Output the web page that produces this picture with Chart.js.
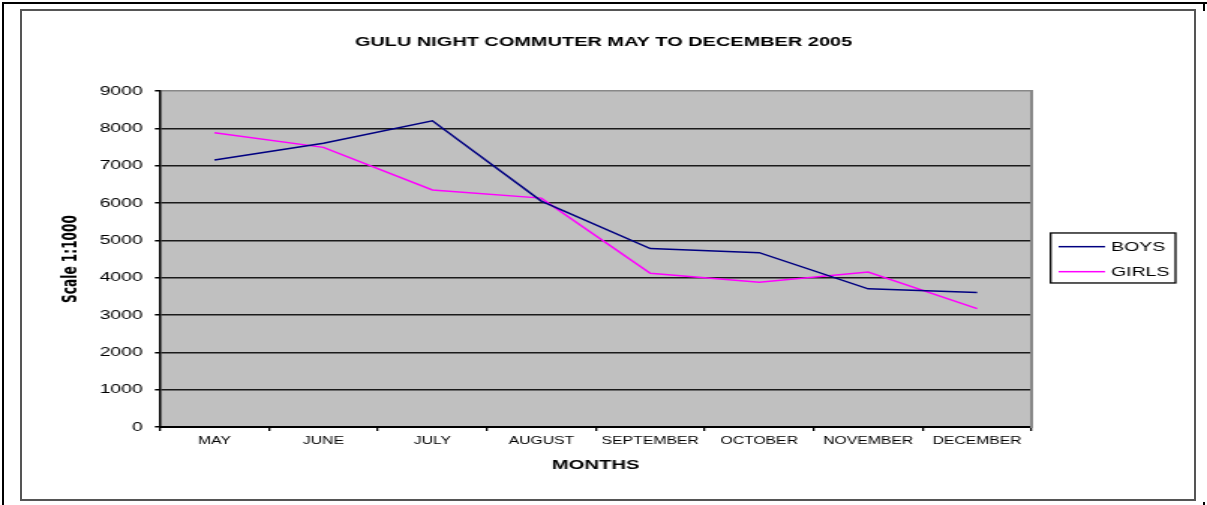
<!DOCTYPE html>
<html>
<head>
<meta charset="utf-8">
<script src="https://cdn.jsdelivr.net/npm/chart.js@4.4.1/dist/chart.umd.min.js"></script>
<style>
  html, body { margin: 0; padding: 0; background: #fff; }
  body { position: relative; width: 1207px; height: 505px; overflow: hidden; }
  .page { position: absolute; left: 2px; top: 2px; width: 1220px; height: 520px; border-left: 2px solid #000; border-top: 2px solid #000; }
  .edge { position: absolute; left: 1203px; width: 2px; background: #000; }
  .frame { position: absolute; left: 20px; top: 9px; width: 1176px; height: 492px; box-sizing: border-box; border: 2px solid #555; }
  #chart { position: absolute; left: 0; top: 0; }
</style>
</head>
<body>
<div class="page"></div>
<div class="edge" style="top:2px;height:9px"></div>
<div class="edge" style="top:502px;height:3px"></div>
<div class="frame"></div>
<!-- the source picture is stretched sideways, so the canvas is drawn narrow and widened by css -->
<canvas id="chart" width="805" height="505" style="width:1207px;height:505px"></canvas>
<script>
const months = ['MAY', 'JUNE', 'JULY', 'AUGUST', 'SEPTEMBER', 'OCTOBER', 'NOVEMBER', 'DECEMBER'];
const boys = [7150, 7600, 8200, 6050, 4780, 4670, 3700, 3600];
const girls = [7880, 7490, 6350, 6130, 4120, 3875, 4150, 3170];
const yTicks = [0, 1000, 2000, 3000, 4000, 5000, 6000, 7000, 8000, 9000];

const FONT = 'Liberation Sans, Arial, sans-serif';

// grey plot area, like the old excel charts
const plotBackground = {
  id: 'plotBackground',
  beforeDraw(chart) {
    const { ctx, chartArea: a } = chart;
    ctx.save();
    ctx.fillStyle = '#c0c0c0';
    ctx.fillRect(a.left, a.top, a.right - a.left, a.bottom - a.top);
    ctx.restore();
  }
};

// legend with a box round it
const boxLegend = {
  id: 'boxLegend',
  afterDraw(chart) {
    const { ctx, chartArea: a } = chart;
    const x = a.right + 12.7;
    const y = (a.top + a.bottom) / 2 - 26;
    ctx.save();
    ctx.strokeStyle = '#000';
    ctx.lineWidth = 1.3;
    ctx.strokeRect(x, y, 83.3, 50);
    ctx.font = '13px ' + FONT;
    ctx.textBaseline = 'middle';
    chart.data.datasets.forEach((ds, i) => {
      const ly = y + 13.7 + i * 25;
      ctx.strokeStyle = ds.borderColor;
      ctx.lineWidth = 1.5;
      ctx.beginPath();
      ctx.moveTo(x + 5.3, ly);
      ctx.lineTo(x + 36.3, ly);
      ctx.stroke();
      ctx.fillStyle = '#000';
      ctx.fillText(ds.label, x + 40.3, ly + 1);
    });
    ctx.restore();
  }
};

new Chart(document.getElementById('chart'), {
  type: 'line',
  data: {
    labels: months,
    datasets: [
      { label: 'BOYS', data: boys, borderColor: '#000080', borderWidth: 1.5, pointRadius: 0, tension: 0 },
      { label: 'GIRLS', data: girls, borderColor: '#ff00ff', borderWidth: 1.5, pointRadius: 0, tension: 0 }
    ]
  },
  options: {
    responsive: false,
    animation: false,
    layout: { padding: { left: 0, right: 0, top: 0, bottom: 32 } },
    plugins: {
      legend: { display: false },
      tooltip: { enabled: false },
      title: {
        display: true,
        text: 'GULU NIGHT COMMUTER MAY TO DECEMBER 2005',
        color: '#000',
        font: { family: FONT, size: 13.3, weight: 'bold' },
        padding: { top: 34.6, bottom: 40.4 }
      }
    },
    scales: {
      x: {
        offset: true,
        grid: { offset: true, drawOnChartArea: false, drawTicks: true, tickLength: 4, color: '#000', lineWidth: 1.3 },
        border: { color: '#000', width: 2 },
        ticks: { color: '#000', padding: 4, maxRotation: 0, autoSkip: false, font: { family: FONT, size: 10.5 } },
        title: { display: true, text: 'MONTHS', color: '#000', font: { family: FONT, size: 13.5, weight: 'bold' }, padding: 0 },
        afterFit(scale) { scale.height = 46; }
      },
      y: {
        min: 0,
        max: 9000,
        afterBuildTicks(scale) { scale.ticks = yTicks.map(v => ({ value: v })); },
        grid: {
          color: ctx => ctx.tick && ctx.tick.value === 9000 ? '#888' : '#1a1a1a',
          tickColor: '#000',
          lineWidth: 1.5,
          tickLength: 3.4
        },
        border: { color: '#000', width: 1.5 },
        ticks: { color: '#000', padding: 8, font: { family: FONT, size: 13 }, callback: v => String(v) },
        title: {
          display: true,
          text: 'Scale 1:1000',
          color: '#000',
          font: { family: 'Liberation Sans Narrow, Arial Narrow, DejaVu Sans Condensed, sans-serif', size: 13.5, weight: 'bold' },
          padding: { top: 39.5, bottom: 0 }
        },
        afterFit(scale) { scale.width = 106.7; }
      },
      // right side only keeps room for the legend and draws the grey edge
      y2: {
        position: 'right',
        min: 0,
        max: 9000,
        grid: { drawOnChartArea: false, drawTicks: false },
        border: { color: '#888', width: 2 },
        ticks: { display: false },
        afterFit(scale) { scale.width = 117; }
      }
    }
  },
  plugins: [plotBackground, boxLegend]
});
</script>
</body>
</html>
